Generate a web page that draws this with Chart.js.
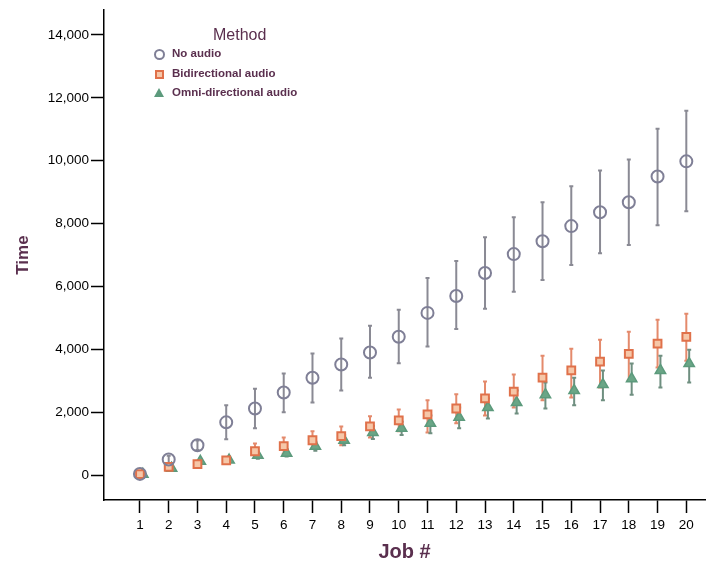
<!DOCTYPE html>
<html>
<head>
<meta charset="utf-8">
<script src="https://cdn.jsdelivr.net/npm/chart.js@4.4.0/dist/chart.umd.min.js"></script>
<style>
  html, body { margin: 0; padding: 0; background: #fff; }
  #wrap { position: relative; width: 713px; height: 569px; }
  .legend { position: absolute; left: 150px; top: 23px; font-family: "Liberation Sans", Arial, sans-serif; color: #5a2f4e; }
  .legend .title { font-size: 16px; margin-left: 63px; margin-top: 3px; margin-bottom: 0px; }
  .legend .item { font-size: 11.5px; font-weight: bold; height: 19.5px; line-height: 19.5px; position: relative; padding-left: 22px; }
  .mk { position: absolute; left: 4px; top: 5px; box-sizing: border-box; }
  .mk.circle { width: 11px; height: 11px; border: 2px solid #7f7f96; border-radius: 50%; }
  .mk.square { width: 9px; height: 9px; top: 6px; left: 5px; border: 2px solid #e0714a; background: #f6c7a8; }
  .mk.tri { width: 0; height: 0; left: 4px; top: 5px; border-left: 5px solid transparent; border-right: 5px solid transparent; border-bottom: 9px solid #5c9a7c; }
</style>
</head>
<body>
<div id="wrap">
  <canvas id="chart" width="713" height="569"></canvas>
  <div class="legend">
    <div class="title">Method</div>
    <div class="item"><span class="mk circle"></span>No audio</div>
    <div class="item"><span class="mk square"></span>Bidirectional audio</div>
    <div class="item"><span class="mk tri"></span>Omni-directional audio</div>
  </div>
</div>
<script>
// data
const jobs = [1, 2, 3, 4, 5, 6, 7, 8, 9, 10, 11, 12, 13, 14, 15, 16, 17, 18, 19, 20];
const yTicks = [0, 2000, 4000, 6000, 8000, 10000, 12000, 14000];

const noAudio     = [40, 500, 950, 1680, 2120, 2630, 3100, 3520, 3900, 4400, 5160, 5700, 6430, 7030, 7440, 7920, 8360, 8680, 9500, 9980];
const noAudioLow  = [0, 380, 800, 1140, 1490, 2000, 2310, 2690, 3100, 3560, 4090, 4650, 5290, 5830, 6210, 6680, 7060, 7320, 7950, 8390];
const noAudioHigh = [90, 620, 1100, 2220, 2750, 3230, 3870, 4350, 4750, 5260, 6270, 6810, 7570, 8200, 8680, 9190, 9690, 10040, 11020, 11590];

const bidir     = [30, 260, 350, 470, 760, 920, 1110, 1240, 1550, 1740, 1930, 2120, 2440, 2660, 3100, 3330, 3610, 3860, 4180, 4400];
const bidirLow  = [0, 170, 250, 380, 560, 680, 840, 950, 1200, 1400, 1360, 1650, 1900, 2150, 2380, 2470, 2790, 3010, 3420, 3640];
const bidirHigh = [70, 360, 460, 580, 1010, 1200, 1400, 1550, 1870, 2090, 2380, 2570, 2980, 3200, 3800, 4020, 4310, 4560, 4940, 5130];

const omni     = [30, 220, 440, 480, 630, 700, 920, 1110, 1360, 1490, 1650, 1840, 2150, 2310, 2560, 2690, 2880, 3070, 3330, 3550];
const omniLow  = [0, 150, 360, 400, 520, 590, 780, 950, 1150, 1280, 1330, 1490, 1800, 1960, 2120, 2220, 2380, 2560, 2790, 2950];
const omniHigh = [60, 300, 520, 560, 740, 820, 1060, 1280, 1560, 1700, 1900, 2150, 2440, 2690, 2950, 3100, 3330, 3550, 3800, 3990];

function pts(vals, low, high, dodge) {
  return jobs.map((j, i) => ({ x: j + dodge, y: vals[i], lo: low[i], hi: high[i] }));
}

const errorBars = {
  id: 'errorBars',
  beforeDatasetsDraw(chart) {
    const ctx = chart.ctx;
    const xs = chart.scales.x, ys = chart.scales.y;
    chart.data.datasets.forEach(ds => {
      ctx.save();
      ctx.strokeStyle = ds.errColor;
      ctx.lineWidth = 2;
      ds.data.forEach(p => {
        const px = xs.getPixelForValue(p.x);
        const top = ys.getPixelForValue(p.hi);
        const bot = ys.getPixelForValue(p.lo);
        ctx.beginPath();
        ctx.moveTo(px, top); ctx.lineTo(px, bot);
        ctx.moveTo(px - 2, top); ctx.lineTo(px + 2, top);
        ctx.moveTo(px - 2, bot); ctx.lineTo(px + 2, bot);
        ctx.stroke();
      });
      ctx.restore();
    });
  }
};

const tickFont = { family: '"Liberation Sans", Arial, sans-serif', size: 13.5 };

new Chart(document.getElementById('chart'), {
  type: 'scatter',
  data: {
    datasets: [
      {
        label: 'No audio',
        data: pts(noAudio, noAudioLow, noAudioHigh, 0),
        pointStyle: 'circle', pointRadius: 6, borderWidth: 2,
        borderColor: '#7f7f96', backgroundColor: 'rgba(255,255,255,0)',
        errColor: '#8a8a94'
      },
      {
        label: 'Bidirectional audio',
        data: pts(bidir, bidirLow, bidirHigh, 0),
        pointStyle: 'rect', pointRadius: 5.5, borderWidth: 2,
        borderColor: '#e0714a', backgroundColor: '#f6c7a8',
        errColor: '#e48a6c'
      },
      {
        label: 'Omni-directional audio',
        data: pts(omni, omniLow, omniHigh, 0.1),
        pointStyle: 'triangle', pointRadius: 6, borderWidth: 1.5,
        borderColor: '#5c9a7c', backgroundColor: '#6aa686',
        errColor: '#6f8f80'
      }
    ]
  },
  options: {
    responsive: false,
    animation: false,
    layout: { padding: 0 },
    plugins: { legend: { display: false }, tooltip: { enabled: false } },
    scales: {
      x: {
        type: 'linear', min: -0.25, max: 20.65,
        afterBuildTicks(scale) { scale.ticks = jobs.map(v => ({ value: v })); },
        afterFit(scale) { scale.height = 69; },
        grid: { drawOnChartArea: false, color: '#000', tickLength: 13, tickWidth: 1.5 },
        border: { color: '#000', width: 1.5 },
        ticks: { color: '#000', font: tickFont, padding: 4, maxRotation: 0, autoSkip: false },
        title: { display: true, text: 'Job #', color: '#5a2f4e',
                 font: { family: '"Liberation Sans", Arial, sans-serif', size: 20, weight: 'bold' },
                 padding: { top: 2, bottom: 5 } }
      },
      y: {
        min: -790, max: 14790,
        afterBuildTicks(scale) { scale.ticks = yTicks.map(v => ({ value: v })); },
        afterFit(scale) { scale.width = 104; },
        grid: { drawOnChartArea: false, color: '#000', tickLength: 13, tickWidth: 1.5 },
        border: { color: '#000', width: 1.5 },
        ticks: { color: '#000', font: tickFont, padding: 2, callback: v => v.toLocaleString('en-US') },
        title: { display: true, text: 'Time', color: '#5a2f4e',
                 font: { family: '"Liberation Sans", Arial, sans-serif', size: 17, weight: 'bold' },
                 padding: { top: 13, bottom: 0 } }
      }
    }
  },
  plugins: [errorBars]
});
</script>
</body>
</html>
